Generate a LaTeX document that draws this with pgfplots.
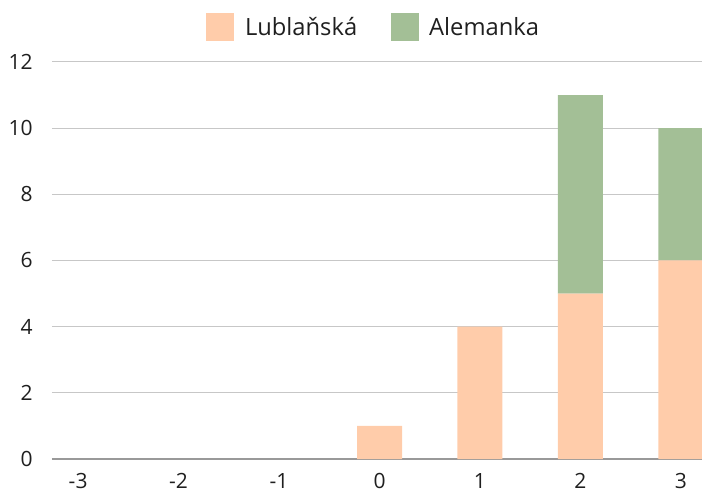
\documentclass[border=0pt]{standalone}
\usepackage{pgfplots}
\pgfplotsset{compat=1.18}
\usepackage{fontspec}
\setmainfont{Open Sans}
\definecolor{peach}{HTML}{FFCCAA}
\definecolor{sage}{HTML}{A3BF96}
\begin{document}
\begin{tikzpicture}
\path[use as bounding box] (-39pt,-24.75pt) rectangle (487.5pt,344.25pt);
\begin{axis}[
  at={(0pt,0pt)}, anchor=south west,
  scale only axis, width=487.5pt, height=297.75pt,
  xmin=-3.26, xmax=3.21, ymin=0, ymax=12,
  ybar stacked, bar width=33.75pt,
  axis x line*=bottom, axis y line*=left,
  x axis line style={draw=black!40, line width=0.9pt, -},
  y axis line style={draw=none},
  xtick={-3,-2,-1,0,1,2,3},
  xticklabels={-3,-2,-1,0,1,2,3},
  ytick={0,2,4,6,8,10,12},
  yticklabels={0,2,4,6,8,10,12},
  major tick length=0pt,
  ymajorgrids, grid style={draw=black!22, line width=0.75pt},
  tick label style={font=\fontsize{15.75}{18}\selectfont, text=black!88},
  yticklabel style={inner sep=0pt, anchor=east, xshift=-14.25pt},
  xticklabel style={inner sep=0pt, anchor=north, yshift=-10.5pt},
  legend columns=2,
  legend style={at={(0.4954,1.088)}, anchor=center, draw=none, fill=none,
    font=\fontsize{17.8}{21}\selectfont, text=black!88,
    /tikz/every odd column/.append style={column sep=6pt},
    /tikz/every even column/.append style={column sep=23pt}},
]
\addplot[fill=peach, draw=none, legend image code/.code={\fill[peach] (0pt,-10.5pt) rectangle (21pt,10.5pt);}]
  coordinates {(-3,0) (-2,0) (-1,0) (0,1) (1,4) (2,5) (3,6)};
\addlegendentry{Lublaňská}
\addplot[fill=sage, draw=none, legend image code/.code={\fill[sage] (0pt,-10.5pt) rectangle (21pt,10.5pt);}]
  coordinates {(-3,0) (-2,0) (-1,0) (0,0) (1,0) (2,6) (3,4)};
\addlegendentry{Alemanka}
\end{axis}
\end{tikzpicture}
\end{document}
